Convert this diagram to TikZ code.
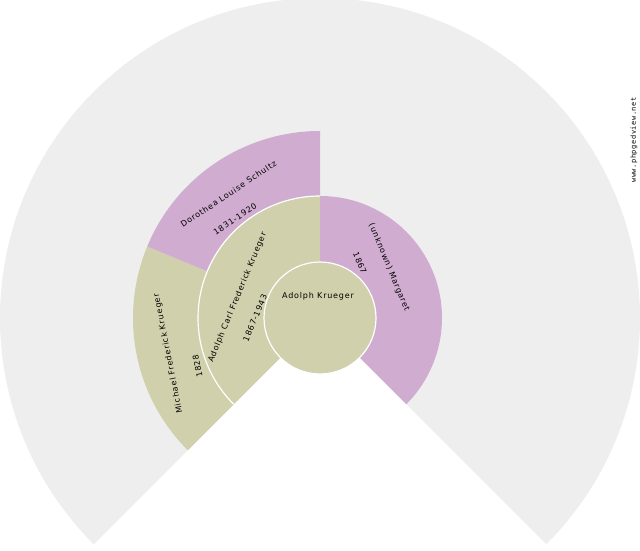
\documentclass[tikz,border=0pt]{standalone}
\usepackage{fontspec}
\setmainfont{DejaVu Sans}[LetterSpace=10]
\newfontfamily\markfont{DejaVu Sans Mono}[LetterSpace=8]
\definecolor{fanbg}{RGB}{238,238,238}
\definecolor{malefill}{RGB}{208,208,173}
\definecolor{femalefill}{RGB}{208,172,208}
\tikzset{
    person/.style={font=\fontsize{8}{9}\selectfont, inner sep=0pt, align=center},
    divider/.style={draw=white, line width=1.2pt},
}
\begin{document}
\begin{tikzpicture}[x=1pt, y=1pt]
    \useasboundingbox (0,0) rectangle (640,550);
    \coordinate (C) at (320,232);

    % Background fan
    \fill [fanbg] (C) -- ++(-45:320) arc [start angle=-45, end angle=225, radius=320] -- cycle;

    % Grandparents
    \fill [malefill] (C) ++(225:122) arc [start angle=225, end angle=157.5, radius=122]
        -- ++(157.5:65) arc [start angle=157.5, end angle=225, radius=187] -- cycle;
    \fill [femalefill] (C) ++(157.5:122) arc [start angle=157.5, end angle=90, radius=122]
        -- ++(90:65) arc [start angle=90, end angle=157.5, radius=187] -- cycle;

    % Parents
    \fill [malefill] (C) -- ++(225:122) arc [start angle=225, end angle=90, radius=122] -- cycle;
    \fill [femalefill] (C) -- ++(90:122) arc [start angle=90, end angle=-45, radius=122] -- cycle;
    \draw [divider] (C) ++(225:122) arc [start angle=225, end angle=90, radius=122];

    % Root
    \fill [malefill] (C) circle [radius=56];
    \draw [divider] (C) circle [radius=56];

    % Labels
    \node [person] (root) at (318,254) {Adolph Krueger};
    \node [person, rotate=67.5] (father) at (237.5,252.5) {Adolph Carl Frederick Krueger};
    \node [person, rotate=67.5] (fatherdates) at (255,232) {1867-1943};
    \node [person, rotate=-67.5] (mother) at (389,282.5) {(unknown) Margaret};
    \node [person, rotate=-67.5] (motherdates) at (360,287) {1867};
    \node [person, rotate=101.25] (grandfather) at (168.3,196.7) {Michael Frederick Krueger};
    \node [person, rotate=101.25] (grandfatherdates) at (197.5,184) {1828};
    \node [person, rotate=33.75] (grandmother) at (228.5,356) {Dorothea Louise Schultz};
    \node [person, rotate=33.75] (grandmotherdates) at (235,331) {1831-1920};

    % Watermark
    \node [font=\markfont\fontsize{7}{8}\selectfont, rotate=90, inner sep=0pt] (mark) at (634,410) {www.phpgedview.net};
\end{tikzpicture}
\end{document}
